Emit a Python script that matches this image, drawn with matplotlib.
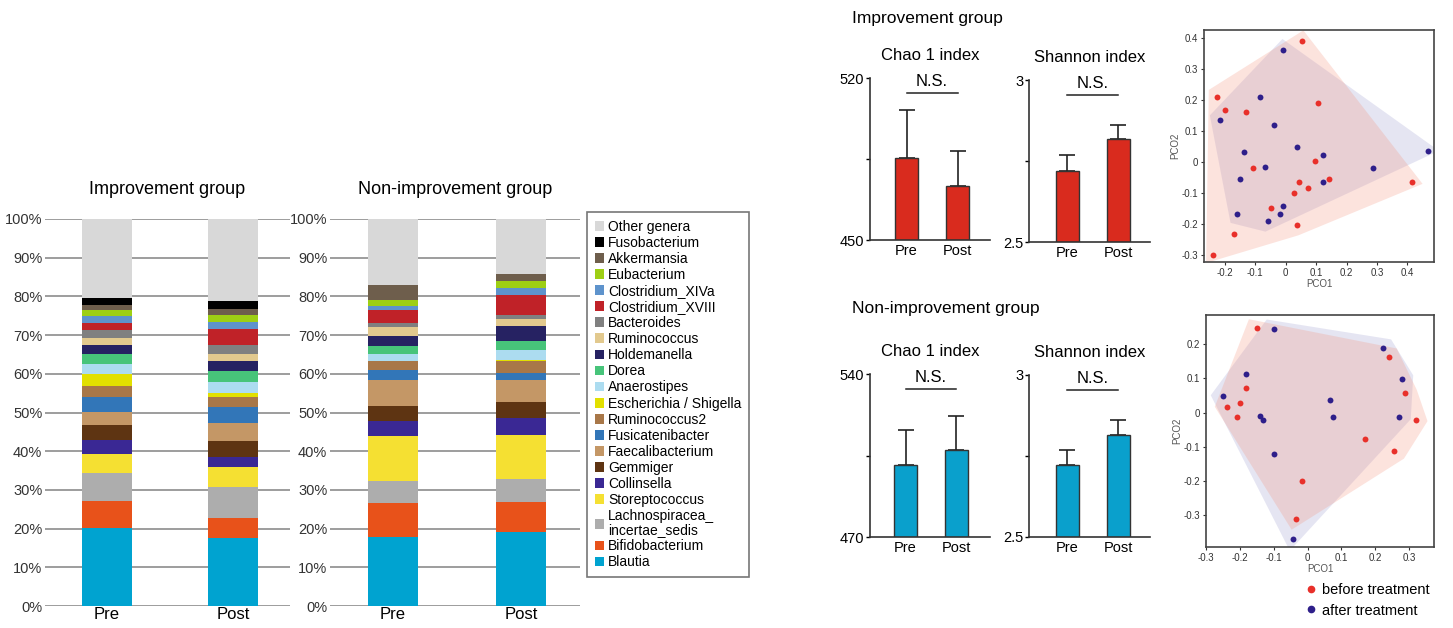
import numpy as np
import matplotlib
matplotlib.use('Agg')
import matplotlib.pyplot as plt
from matplotlib.patches import Patch, Polygon
from matplotlib.lines import Line2D

plt.rcParams['font.family'] = ['Liberation Sans', 'DejaVu Sans']

# genera, bottom to top of the stacks
genera = ['Blautia', 'Bifidobacterium', 'Lachnospiracea_\nincertae_sedis', 'Storeptococcus',
          'Collinsella', 'Gemmiger', 'Faecalibacterium', 'Fusicatenibacter', 'Ruminococcus2',
          'Escherichia / Shigella', 'Anaerostipes', 'Dorea', 'Holdemanella', 'Ruminococcus',
          'Bacteroides', 'Clostridium_XVIII', 'Clostridium_XIVa', 'Eubacterium', 'Akkermansia',
          'Fusobacterium', 'Other genera']
genus_colors = ['#00a3d0', '#e8521a', '#adadad', '#f5e032', '#3a2894', '#5e3412', '#c49766',
                '#3276b8', '#a87748', '#e2e000', '#acdcf0', '#47c47a', '#262262', '#e2c98e',
                '#808080', '#c02228', '#5e93cc', '#9ecf14', '#6e5e4c', '#000000', '#d8d8d8']

# relative abundance (%)
imp_pre = [20.1, 7.1, 7.1, 4.9, 3.8, 3.7, 3.5, 3.7, 3.0, 3.0, 2.7, 2.6, 2.2, 1.9, 1.9, 1.9, 1.9, 1.5, 1.4, 1.6, 20.5]
imp_post = [17.5, 5.3, 7.9, 5.2, 2.6, 4.2, 4.5, 4.1, 2.6, 1.1, 3.0, 2.6, 2.7, 1.9, 2.2, 4.2, 1.8, 1.9, 1.5, 1.9, 21.3]
non_pre = [17.8, 8.8, 5.6, 11.6, 4.1, 3.8, 6.7, 2.6, 2.2, 0.2, 1.8, 1.9, 2.6, 2.3, 1.1, 3.4, 1.1, 1.5, 3.8, 0.1, 17.0]
non_post = [19.1, 7.8, 6.0, 11.2, 4.6, 4.1, 5.6, 1.9, 3.0, 0.3, 2.6, 2.4, 3.7, 1.9, 1.1, 5.0, 1.9, 1.8, 1.9, 0.0, 14.1]

timepoints = ['Pre', 'Post']

# alpha diversity: mean and upper error
imp_chao = [485.6, 473.5]
imp_chao_err = [20.5, 15.0]
imp_shannon = [2.719, 2.818]
imp_shannon_err = [0.048, 0.043]
non_chao = [501.0, 507.2]
non_chao_err = [15.0, 14.8]
non_shannon = [2.721, 2.814]
non_shannon_err = [0.048, 0.048]

# PCoA coordinates
imp_before = np.array([
    [0.054, 0.391], [-0.226, 0.210], [-0.200, 0.169], [-0.129, 0.160], [0.106, 0.192],
    [-0.107, -0.021], [0.097, 0.002], [0.044, -0.065], [0.142, -0.056], [0.072, -0.085],
    [0.028, -0.102], [-0.048, -0.149], [0.037, -0.203], [-0.168, -0.233], [-0.239, -0.300],
    [0.415, -0.065]])
imp_after = np.array([
    [-0.009, 0.363], [-0.085, 0.210], [-0.217, 0.136], [-0.039, 0.118], [0.037, 0.049],
    [0.124, 0.022], [-0.138, 0.032], [-0.067, -0.018], [-0.150, -0.056], [0.124, -0.064],
    [0.288, -0.021], [0.468, 0.036], [-0.010, -0.142], [-0.018, -0.170], [-0.057, -0.192],
    [-0.159, -0.170]])
non_before = np.array([
    [-0.149, 0.249], [-0.184, 0.073], [-0.201, 0.027], [-0.240, 0.016], [-0.210, -0.013],
    [0.240, 0.162], [0.289, 0.058], [0.320, -0.021], [0.170, -0.077], [0.257, -0.114],
    [-0.017, -0.201], [-0.034, -0.311]])
non_after = np.array([
    [-0.100, 0.245], [-0.184, 0.113], [-0.252, 0.049], [-0.141, -0.011], [-0.132, -0.021],
    [-0.100, -0.120], [0.065, 0.036], [0.074, -0.012], [0.222, 0.190], [0.279, 0.099],
    [0.271, -0.012], [-0.044, -0.371]])

W, H = 1453, 628
fig = plt.figure(figsize=(W / 100, H / 100), dpi=100)


def px_axes(x0, y0, x1, y1):
    return fig.add_axes([x0 / W, 1 - y1 / H, (x1 - x0) / W, (y1 - y0) / H])


def stacked(ax, pre, post, title, xlim, width):
    for y in range(0, 101, 10):
        ax.axhline(y, color='#8c8c8c', lw=1.2, zorder=0)
    for i, vals in enumerate([pre, post]):
        bottom = 0
        for v, c in zip(vals, genus_colors):
            ax.bar(i, v, bottom=bottom, width=width, color=c, zorder=2)
            bottom += v
    ax.set_xlim(*xlim)
    ax.set_ylim(0, 100)
    ax.set_yticks(range(0, 101, 10))
    ax.set_yticklabels([f'{y}%' for y in range(0, 101, 10)], fontsize=10.5, color='#333333')
    ax.set_xticks([0, 1])
    ax.set_xticklabels(timepoints, fontsize=12)
    ax.tick_params(length=0, pad=2)
    ax.tick_params(axis='x', pad=1)
    for s in ax.spines.values():
        s.set_visible(False)
    ax.set_title(title, fontsize=13, pad=18)


ax1 = px_axes(45, 219, 290, 606)
stacked(ax1, imp_pre, imp_post, 'Improvement group', (-0.492, 1.452), 0.40)
ax2 = px_axes(330, 219, 580, 606)
stacked(ax2, non_pre, non_post, 'Non-improvement group', (-0.492, 1.46), 0.39)

handles = [Patch(facecolor=c, edgecolor='none') for c in genus_colors][::-1]
leg = fig.legend(handles, genera[::-1], loc='upper left', bbox_to_anchor=(587 / W, 1 - 212 / H),
                 fontsize=10, frameon=True, fancybox=False, edgecolor='#555555',
                 handlelength=0.7, handleheight=0.7, handletextpad=0.25, labelspacing=0.15,
                 borderpad=0.55, borderaxespad=0)
leg.get_frame().set_linewidth(1.2)
for t in leg.get_texts():
    t.set_linespacing(1.0)


def alpha_bars(ax, vals, errs, color, ylim, ticks, xlim, title):
    ax.bar([0, 1], vals, width=0.45, color=color, edgecolor='#333333', lw=1.0, zorder=2)
    ax.errorbar([0, 1], vals, yerr=[[0, 0], errs], fmt='none', ecolor='#222222',
                elinewidth=1.2, capsize=6, capthick=1.2, zorder=1)
    ax.set_ylim(*ylim)
    ax.set_xlim(*xlim)
    ax.set_yticks(ticks)
    ax.set_yticklabels([str(ticks[0]), '', str(ticks[2])], fontsize=10.5)
    ax.set_xticks([0, 1])
    ax.set_xticklabels(timepoints, fontsize=10.5)
    ax.tick_params(axis='x', length=0, pad=3)
    ax.tick_params(axis='y', length=3, width=1, pad=1)
    ax.spines['top'].set_visible(False)
    ax.spines['right'].set_visible(False)
    for s in ('left', 'bottom'):
        ax.spines[s].set_linewidth(1.2)
        ax.spines[s].set_color('#333333')
    yr = ylim[1] - ylim[0]
    top = ylim[1] - 0.09 * yr
    ax.plot([0, 1], [top, top], color='#222222', lw=1.1, clip_on=False)
    ax.text(0.5, top + 0.02 * yr, 'N.S.', ha='center', va='bottom', fontsize=12)
    ax.set_title(title, fontsize=12, pad=13)


red = '#d92b1e'
blue = '#0aa0cc'
alpha_bars(px_axes(870, 78, 990, 240), imp_chao, imp_chao_err, red, (450, 520),
           [450, 485, 520], (-0.716, 1.637), 'Chao 1 index')
alpha_bars(px_axes(1029, 80, 1150, 242), imp_shannon, imp_shannon_err, red, (2.5, 3.0),
           [2.5, 2.75, 3], (-0.755, 1.618), 'Shannon index')
alpha_bars(px_axes(870, 374, 990, 537), non_chao, non_chao_err, blue, (470, 540),
           [470, 505, 540], (-0.7, 1.66), 'Chao 1 index')
alpha_bars(px_axes(1029, 375, 1150, 537), non_shannon, non_shannon_err, blue, (2.5, 3.0),
           [2.5, 2.75, 3], (-0.755, 1.618), 'Shannon index')

fig.text(852 / W, 1 - 18 / H, 'Improvement group', fontsize=12.5, va='center')
fig.text(852 / W, 1 - 308 / H, 'Non-improvement group', fontsize=12.5, va='center')


def hull(points):
    pts = sorted(map(tuple, points))
    def cross(o, a, b):
        return (a[0] - o[0]) * (b[1] - o[1]) - (a[1] - o[1]) * (b[0] - o[0])
    lower, upper = [], []
    for p in pts:
        while len(lower) >= 2 and cross(lower[-2], lower[-1], p) <= 0:
            lower.pop()
        lower.append(p)
    for p in reversed(pts):
        while len(upper) >= 2 and cross(upper[-2], upper[-1], p) <= 0:
            upper.pop()
        upper.append(p)
    h = np.array(lower[:-1] + upper[:-1])
    c = h.mean(axis=0)
    d = h - c
    n = np.linalg.norm(d, axis=1, keepdims=True)
    return c + d * (1 + 0.035 / n)


def pcoa(ax, before, after, xlim, ylim, xticks, yticks):
    ax.add_patch(Polygon(hull(after), closed=True, facecolor='#8a8ac8', alpha=0.22, lw=0, zorder=1))
    ax.add_patch(Polygon(hull(before), closed=True, facecolor='#f4907a', alpha=0.25, lw=0, zorder=1))
    ax.scatter(before[:, 0], before[:, 1], s=18, color='#e8302a', zorder=3, lw=0)
    ax.scatter(after[:, 0], after[:, 1], s=18, color='#2e1f8a', zorder=3, lw=0)
    ax.set_xlim(*xlim)
    ax.set_ylim(*ylim)
    ax.set_xticks(xticks)
    ax.set_yticks(yticks)
    ax.set_xticklabels(['0' if abs(t) < 1e-9 else f'{t:g}' for t in xticks], fontsize=7)
    ax.set_yticklabels(['0' if abs(t) < 1e-9 else f'{t:g}' for t in yticks], fontsize=7)
    ax.tick_params(length=2.5, width=0.8, pad=1.5, colors='#333333')
    for s in ax.spines.values():
        s.set_linewidth(1.2)
        s.set_color('#444444')
    ax.set_xlabel('PCO1', fontsize=7, color='#555555', labelpad=1)
    ax.set_ylabel('PCO2', fontsize=7, color='#555555', labelpad=1)


pcoa(px_axes(1204, 30, 1434, 262), imp_before, imp_after, (-0.268, 0.487), (-0.324, 0.427),
     np.round(np.arange(-0.2, 0.41, 0.1), 1), np.round(np.arange(-0.3, 0.41, 0.1), 1))
pcoa(px_axes(1206, 315, 1434, 547), non_before, non_after, (-0.301, 0.374), (-0.394, 0.286),
     np.round(np.arange(-0.3, 0.31, 0.1), 1), np.round(np.arange(-0.3, 0.21, 0.1), 1))

markers = [Line2D([], [], marker='o', ls='none', color='#e8302a', markersize=4.5),
           Line2D([], [], marker='o', ls='none', color='#2e1f8a', markersize=4.5)]
fig.legend(markers, ['before treatment', 'after treatment'], loc='upper left',
           bbox_to_anchor=(1305 / W, 1 - 583 / H), frameon=False, fontsize=10.5,
           handlelength=0.8, handletextpad=0.4, labelspacing=0.45, borderaxespad=0, borderpad=0)

fig.savefig('out.png', dpi=100)
